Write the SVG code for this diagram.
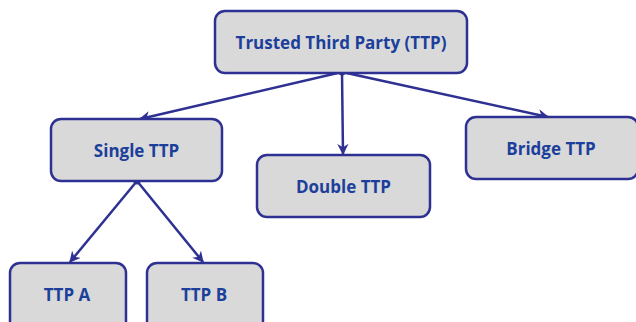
<svg xmlns="http://www.w3.org/2000/svg" width="636" height="322" viewBox="0 0 636 322">
<style>
.box{fill:#d9d9d9;stroke:#2e3192;stroke-width:2.5}
.lbl{font-family:"Open Sans","Liberation Sans",sans-serif;font-weight:bold;font-size:17px;fill:#1b3f9b;text-anchor:middle;dominant-baseline:central}
.con{stroke:#2e3192;stroke-width:2.5;fill:none}
</style>
<defs>
<marker id="arr" viewBox="0 0 10 10" refX="9" refY="5" markerWidth="4.5" markerHeight="4.5" orient="auto" markerUnits="strokeWidth">
<path d="M0,0 L10,5 L0,10 L3,5 Z" fill="#2e3192"/>
</marker>
</defs>
<rect width="636" height="322" fill="#ffffff"/>
<g id="connectors">
<line class="con" x1="342" y1="72" x2="140" y2="119" marker-end="url(#arr)"/>
<line class="con" x1="342" y1="72" x2="343" y2="154" marker-end="url(#arr)"/>
<line class="con" x1="342" y1="72" x2="548" y2="117" marker-end="url(#arr)"/>
<line class="con" x1="137" y1="181" x2="70" y2="262" marker-end="url(#arr)"/>
<line class="con" x1="137" y1="181" x2="203" y2="262" marker-end="url(#arr)"/>
<circle cx="342" cy="72" r="3.5" fill="#2e3192"/>
<circle cx="137" cy="181" r="3.5" fill="#2e3192"/>
</g>
<g id="ttp">
<rect class="box" x="215" y="11" width="252" height="62" rx="10"/>
<text class="lbl" x="341" y="42">Trusted Third Party (TTP)</text>
</g>
<g id="single">
<rect class="box" x="51" y="119" width="171" height="62" rx="10"/>
<text class="lbl" x="136.5" y="150">Single TTP</text>
</g>
<g id="double">
<rect class="box" x="257" y="155" width="173" height="62" rx="10"/>
<text class="lbl" x="343.5" y="186">Double TTP</text>
</g>
<g id="bridge">
<rect class="box" x="466" y="117" width="172" height="62" rx="10"/>
<text class="lbl" x="551" y="148">Bridge TTP</text>
</g>
<g id="ttpa">
<rect class="box" x="10" y="263" width="116" height="70" rx="10"/>
<text class="lbl" x="67" y="294">TTP A</text>
</g>
<g id="ttpb">
<rect class="box" x="147" y="263" width="116" height="70" rx="10"/>
<text class="lbl" x="204" y="294">TTP B</text>
</g>
</svg>
